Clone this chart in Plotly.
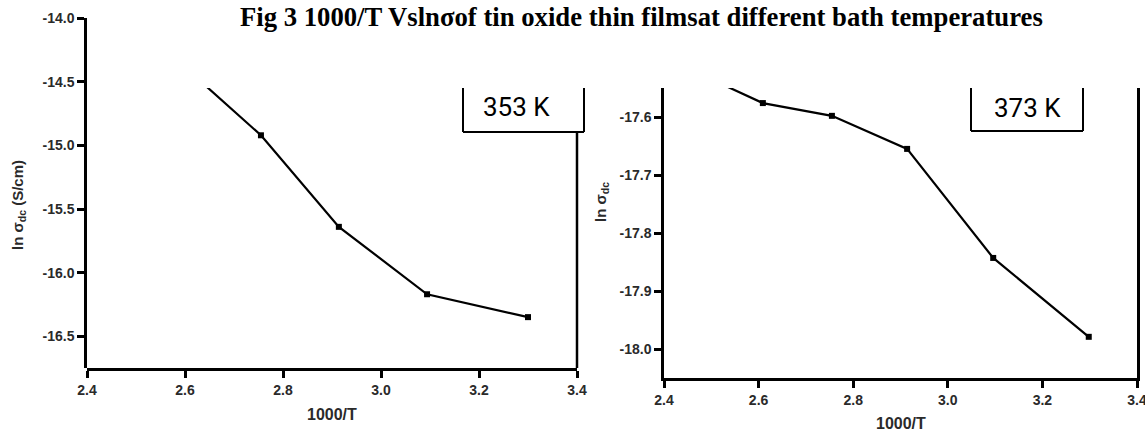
import plotly.graph_objects as go

# ---- data ----
x_353 = [2.61, 2.755, 2.914, 3.094, 3.30]
y_353 = [-14.42, -14.92, -15.64, -16.17, -16.35]

x_373 = [2.50, 2.609, 2.755, 2.914, 3.096, 3.298]
y_373 = [-17.535, -17.576, -17.598, -17.655, -17.843, -17.979]

x_ticks = [2.4, 2.6, 2.8, 3.0, 3.2, 3.4]
y_ticks_353 = [-16.5, -16.0, -15.5, -15.0, -14.5, -14.0]
y_ticks_373 = [-18.0, -17.9, -17.8, -17.7, -17.6]

title_text = "Fig 3 1000/T Vslnσof tin oxide thin filmsat different bath temperatures"
labels = ["353 K", "373 K"]

W, H = 1145, 432

def px(x):
    return x / W

def py(y):
    return (H - y) / H

# layout geometry (pixels)
L_left, L_right = 87, 577
R_left, R_right = 664, 1137
top_clip = 88
L_bottom, L_tick_top = 368, 18.3
R_bottom = 378

L_range_bot, L_tick_range_top = -16.75, -14.0
L_data_top = L_range_bot + (L_tick_range_top - L_range_bot) * (L_bottom - top_clip) / (L_bottom - L_tick_top)

tickfont = dict(family="Liberation Sans, Arial, sans-serif", size=14, color="#2a2a2a", weight="bold")
titlefont = dict(family="Liberation Sans, Arial, sans-serif", size=16, color="#2a2a2a", weight="bold")

fig = go.Figure()

line_style = dict(color="black", width=2.2)
marker_style = dict(symbol="square", size=6, color="black")

# invisible helper trace so the full-height tick axis is rendered
fig.add_trace(go.Scatter(x=[x_ticks[0]], y=[y_ticks_353[-1]], mode="markers",
                         marker=dict(opacity=0), xaxis="x", yaxis="y3",
                         showlegend=False, hoverinfo="skip"))
fig.add_trace(go.Scatter(x=x_353, y=y_353, mode="lines+markers", line=line_style,
                         marker=marker_style, xaxis="x", yaxis="y", showlegend=False,
                         hoverinfo="skip"))
fig.add_trace(go.Scatter(x=x_373, y=y_373, mode="lines+markers", line=line_style,
                         marker=marker_style, xaxis="x2", yaxis="y2", showlegend=False,
                         hoverinfo="skip"))

axis_common = dict(showgrid=False, zeroline=False, linecolor="black", linewidth=2.5,
                   ticks="outside", ticklen=7, tickwidth=2.5, tickcolor="black",
                   tickfont=tickfont, ticklabeloverflow="allow")

fig.update_layout(
    width=W, height=H,
    margin=dict(l=0, r=0, t=0, b=0, autoexpand=False),
    paper_bgcolor="white", plot_bgcolor="rgba(0,0,0,0)",
    xaxis=dict(domain=[px(L_left), px(L_right)], range=[2.4, 3.4], anchor="y",
               tickvals=x_ticks, ticktext=[f"{v:.1f}" for v in x_ticks],
               showline=True, **axis_common),
    yaxis=dict(domain=[py(L_bottom), py(top_clip)], range=[L_range_bot, L_data_top],
               anchor="x", showline=False, showticklabels=False, ticks="",
               showgrid=False, zeroline=False),
    yaxis3=dict(domain=[py(L_bottom), py(L_tick_top)], range=[L_range_bot, L_tick_range_top],
                anchor="x", tickvals=y_ticks_353, ticktext=[f"{v:.1f}" for v in y_ticks_353],
                showline=True, **axis_common),
    xaxis2=dict(domain=[px(R_left), px(R_right)], range=[2.4, 3.4], anchor="y2",
                tickvals=x_ticks, ticktext=[f"{v:.1f}" for v in x_ticks],
                showline=True, **axis_common),
    yaxis2=dict(domain=[py(R_bottom), py(top_clip)], range=[-18.05, -17.55], anchor="x2",
                tickvals=y_ticks_373, ticktext=[f"{v:.1f}" for v in y_ticks_373],
                showline=True, mirror=True, **axis_common),
)

shapes = []
lw = dict(color="black", width=2.5)
# right frame of left panel (starts below the label box)
shapes.append(dict(type="line", xref="paper", yref="paper", x0=px(L_right), x1=px(L_right),
                   y0=py(132), y1=py(L_bottom), line=lw))
# label boxes (open at top)
for (x0, x1, yb) in [(463, 584, 132), (971, 1083, 131)]:
    shapes.append(dict(type="line", xref="paper", yref="paper", x0=px(x0), x1=px(x0),
                       y0=py(top_clip), y1=py(yb), line=dict(color="black", width=2)))
    shapes.append(dict(type="line", xref="paper", yref="paper", x0=px(x1), x1=px(x1),
                       y0=py(top_clip), y1=py(yb), line=dict(color="black", width=2)))
    shapes.append(dict(type="line", xref="paper", yref="paper", x0=px(x0), x1=px(x1),
                       y0=py(yb), y1=py(yb), line=dict(color="black", width=2)))
fig.update_layout(shapes=shapes)

annotations = [
    dict(text=title_text, x=px(238), y=py(17), xref="paper", yref="paper",
         xanchor="left", yanchor="middle", showarrow=False,
         font=dict(family="Liberation Serif, Times New Roman, serif", size=26.7,
                   color="black", weight="bold")),
    dict(text=labels[0], x=px(516), y=py(107), xref="paper", yref="paper",
         xanchor="center", yanchor="middle", showarrow=False,
         font=dict(family="Roboto, sans-serif", size=26, color="black")),
    dict(text=labels[1], x=px(1027), y=py(108), xref="paper", yref="paper",
         xanchor="center", yanchor="middle", showarrow=False,
         font=dict(family="Roboto, sans-serif", size=26, color="black")),
    dict(text="1000/T", x=px((L_left + L_right) / 2), y=py(414), xref="paper", yref="paper",
         xanchor="center", yanchor="middle", showarrow=False, font=titlefont),
    dict(text="1000/T", x=px((R_left + R_right) / 2), y=py(423), xref="paper", yref="paper",
         xanchor="center", yanchor="middle", showarrow=False, font=titlefont),
    dict(text="ln σ<sub>dc</sub> (S/cm)", x=px(18), y=py(205), xref="paper", yref="paper",
         xanchor="center", yanchor="middle", showarrow=False, textangle=-90,
         font=dict(family="Liberation Sans, Arial, sans-serif", size=15, color="#2a2a2a", weight="bold")),
    dict(text="ln σ<sub>dc</sub>", x=px(601), y=py(202), xref="paper", yref="paper",
         xanchor="center", yanchor="middle", showarrow=False, textangle=-90,
         font=dict(family="Liberation Sans, Arial, sans-serif", size=15, color="#2a2a2a", weight="bold")),
]
fig.update_layout(annotations=annotations)

fig.write_html("out.html", config={"displayModeBar": False},
               post_script="document.body.style.margin='0';document.body.style.padding='0';")
